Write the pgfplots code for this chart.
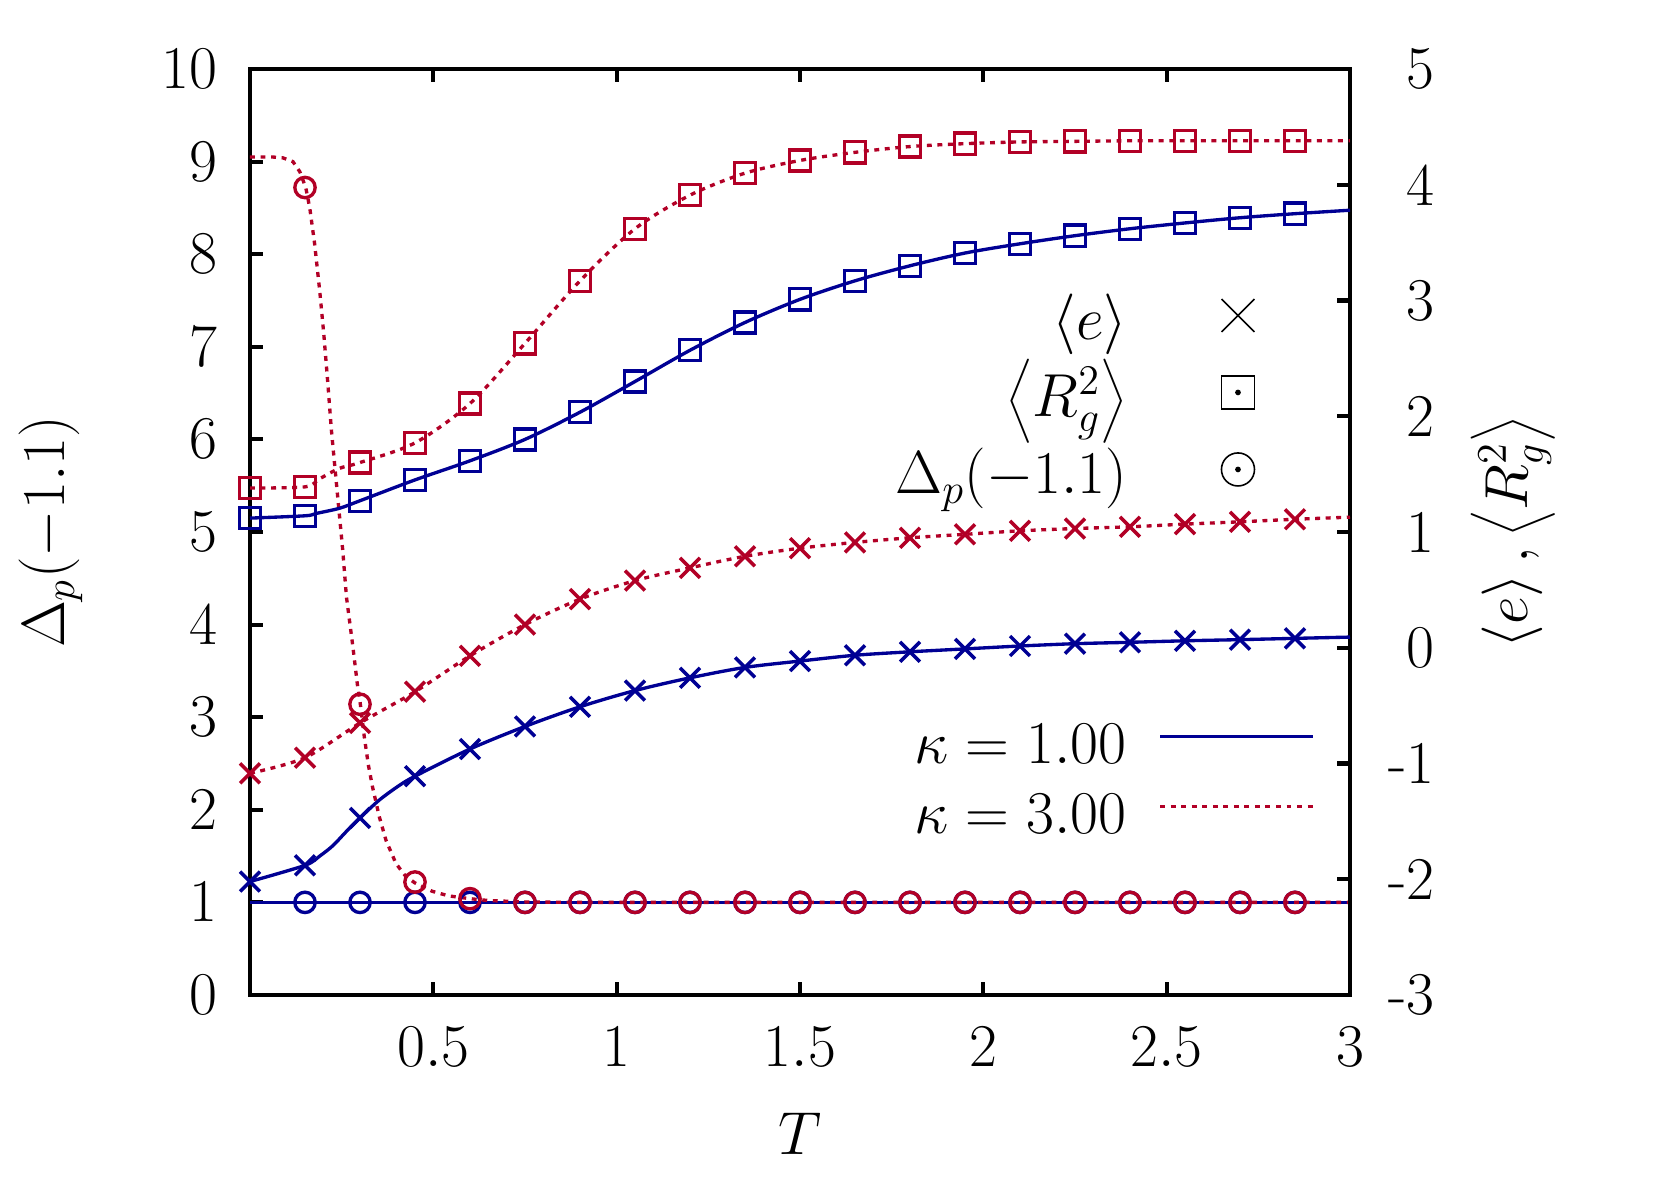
\documentclass[border=0pt]{standalone}
\usepackage{pgfplots}
\pgfplotsset{compat=1.18}
\definecolor{kblue}{RGB}{0,0,148}
\definecolor{kred}{RGB}{178,0,38}
\newcommand{\bigfont}{\fontsize{17.28}{20}\selectfont}
\tikzset{kdot/.style={dash pattern=on 1.4pt off 1.6pt}}
\pgfplotsset{
  common/.style={
    at={(2.50cm,1.86cm)}, anchor=south west, scale only axis,
    width=11.0cm, height=9.26cm, xmin=0, xmax=3, clip=false,
    tick align=inside, major tick length=0.13cm,
    axis line style={line width=1.15pt},
    every tick/.style={black, line width=1.15pt},
    tick label style={font=\bigfont},
    label style={font=\bigfont},
    legend cell align=right, legend plot pos=right,
  }
}
\begin{document}
\begin{tikzpicture}
\useasboundingbox (0,0) rectangle (16.53,11.81);
% ---------------- left axis: Delta_p(-1.1)
\begin{axis}[common,
  ymin=0, ymax=10,
  xtick={0.5,1,1.5,2,2.5,3}, ytick={0,1,...,10},
  xtick pos=both, ytick pos=left,
  xlabel={$T$}, ylabel={$\Delta_p(-1.1)$},
  xlabel style={at={(axis description cs:0.5,-0.15)}, anchor=center},
  ylabel style={at={(axis description cs:-0.181,0.5)}, anchor=center},
  x tick label style={yshift=-0.2cm},
  y tick label style={xshift=-0.2cm},
  legend image code/.code={\path (0cm,0cm); \draw[#1] (0.32cm,0.166cm) -- (1.85cm,0.166cm);},
  legend style={at={(0.968,0.299)}, anchor=north east, draw=none, fill=none,
    inner sep=0pt, outer sep=0pt, font=\bigfont, row sep=0pt,
    nodes={inner sep=0pt, text height=0.45cm, text depth=0.25cm}},
]
\addlegendimage{kblue, line width=1pt}
\addlegendentry{$\kappa = 1.00$}
\addlegendimage{kred, line width=1pt, kdot}
\addlegendentry{$\kappa = 3.00$}
% kappa = 1
\addplot[kblue, line width=0.95pt, forget plot] coordinates {(0,1) (3,1)};
\addplot[only marks, kblue, mark=o, mark size=2.9pt, line width=0.95pt, forget plot] coordinates {
(0.15,1)(0.30,1)(0.45,1)(0.60,1)(0.75,1)(0.90,1)(1.05,1)(1.20,1)(1.35,1)(1.50,1)
(1.65,1)(1.80,1)(1.95,1)(2.10,1)(2.25,1)(2.40,1)(2.55,1)(2.70,1)(2.85,1)};
% kappa = 3
\addplot[kred, line width=0.95pt, kdot, forget plot] coordinates {
(0,9.05)(0.06,9.05)(0.09,9.04)(0.117,9.00)(0.136,8.89)(0.152,8.72)(0.163,8.50)(0.176,8.12)
(0.19,7.61)(0.201,7.15)(0.212,6.62)(0.222,6.10)(0.232,5.68)(0.243,5.22)(0.253,4.80)
(0.263,4.30)(0.28,3.78)(0.293,3.35)(0.301,3.14)(0.312,2.78)(0.323,2.48)(0.334,2.25)
(0.353,1.92)(0.371,1.67)(0.398,1.42)(0.425,1.28)(0.45,1.21)(0.497,1.12)(0.542,1.07)
(0.60,1.04)(0.65,1.02)(0.75,1.005)(0.9,1.0)(3,1.0)};
\addplot[only marks, kred, mark=o, mark size=2.9pt, line width=0.95pt, forget plot] coordinates {
(0.15,8.72)(0.30,3.14)(0.45,1.22)(0.60,1.04)(0.75,1)(0.90,1)(1.05,1)(1.20,1)(1.35,1)(1.50,1)
(1.65,1)(1.80,1)(1.95,1)(2.10,1)(2.25,1)(2.40,1)(2.55,1)(2.70,1)(2.85,1)};
\end{axis}
% ---------------- right axis: <e>, <Rg^2>
\begin{axis}[common,
  ymin=-3, ymax=5,
  axis y line*=right, axis x line=none,
  ytick={-3,-2,...,5}, yticklabels={-3,-2,-1,0,1,2,3,4,5},
  y tick label style={anchor=east, xshift=0.97cm},
  ylabel={$\langle e\rangle\,,\left\langle R_g^2\right\rangle$},
  ylabel style={at={(axis description cs:1.148,0.5)}, anchor=center},
  legend style={at={(0.9132,0.756)}, anchor=north east, draw=none, fill=none,
    inner sep=0pt, outer sep=0pt, font=\bigfont, row sep=0.06cm,
    nodes={inner sep=0pt, text height=0.45cm, text depth=0.26cm}},
]
\addlegendimage{legend image code/.code={\path (0cm,0cm); \draw[black, line width=0.45pt] plot[mark=x, mark size=6.6pt] coordinates {(1.10cm,0.15cm)};}}
\addlegendentry{$\langle e\rangle$}
\addlegendimage{legend image code/.code={\path (0cm,0cm); \draw[black, line width=0.45pt] plot[mark=square, mark size=4.7pt] coordinates {(1.10cm,0.15cm)}; \fill[black] (1.10cm,0.15cm) circle (0.6pt);}}
\addlegendentry{$\left\langle R_g^2\right\rangle$}
\addlegendimage{legend image code/.code={\path (0cm,0cm); \draw[black, line width=0.45pt] plot[mark=o, mark size=4.7pt] coordinates {(1.10cm,0.15cm)}; \fill[black] (1.10cm,0.15cm) circle (0.6pt);}}
\addlegendentry{$\Delta_p(-1.1)$}
% kappa = 1 : <e>
\addplot[kblue, line width=0.95pt, smooth, forget plot] coordinates {
(0,-2.02)(0.15,-1.88)(0.19,-1.80)(0.226,-1.71)(0.262,-1.59)(0.30,-1.47)(0.353,-1.315)
(0.407,-1.19)(0.45,-1.11)(0.60,-0.875)(0.75,-0.68)(0.90,-0.51)(1.05,-0.37)(1.20,-0.26)
(1.35,-0.17)(1.50,-0.115)(1.65,-0.065)(1.80,-0.035)(1.95,-0.01)(2.10,0.015)(2.25,0.035)
(2.40,0.047)(2.55,0.06)(2.70,0.07)(2.85,0.081)(3.0,0.092)};
\addplot[only marks, kblue, mark=x, mark size=4.0pt, line width=1pt, forget plot] coordinates {
(0,-2.02)(0.15,-1.88)(0.30,-1.47)(0.45,-1.11)(0.60,-0.875)(0.75,-0.68)(0.90,-0.51)(1.05,-0.37)
(1.20,-0.26)(1.35,-0.17)(1.50,-0.115)(1.65,-0.065)(1.80,-0.035)(1.95,-0.01)(2.10,0.015)
(2.25,0.035)(2.40,0.047)(2.55,0.06)(2.70,0.07)(2.85,0.081)};
% kappa = 1 : <Rg^2>
\addplot[kblue, line width=0.95pt, smooth, forget plot] coordinates {
(0,1.12)(0.15,1.14)(0.18,1.16)(0.244,1.205)(0.30,1.27)(0.45,1.45)(0.60,1.615)(0.75,1.80)
(0.90,2.035)(1.05,2.30)(1.20,2.57)(1.35,2.81)(1.50,3.01)(1.65,3.17)(1.80,3.30)(1.95,3.41)
(2.10,3.49)(2.25,3.56)(2.40,3.62)(2.55,3.67)(2.70,3.715)(2.85,3.75)(3.0,3.78)};
\addplot[only marks, kblue, mark=square, mark size=3pt, line width=0.95pt, forget plot] coordinates {
(0,1.12)(0.15,1.14)(0.30,1.27)(0.45,1.45)(0.60,1.615)(0.75,1.80)(0.90,2.035)(1.05,2.30)
(1.20,2.57)(1.35,2.81)(1.50,3.01)(1.65,3.17)(1.80,3.30)(1.95,3.41)(2.10,3.49)(2.25,3.56)
(2.40,3.62)(2.55,3.67)(2.70,3.715)(2.85,3.75)};
% kappa = 3 : <e>
\addplot[kred, line width=0.95pt, kdot, smooth, forget plot] coordinates {
(0,-1.085)(0.15,-0.95)(0.30,-0.65)(0.45,-0.38)(0.60,-0.07)(0.75,0.20)(0.90,0.42)(1.05,0.58)
(1.20,0.69)(1.35,0.79)(1.50,0.86)(1.65,0.91)(1.80,0.95)(1.95,0.98)(2.10,1.01)(2.25,1.03)
(2.40,1.045)(2.55,1.068)(2.70,1.088)(2.85,1.11)(3.0,1.128)};
\addplot[only marks, kred, mark=x, mark size=4.0pt, line width=1pt, forget plot] coordinates {
(0,-1.085)(0.15,-0.95)(0.30,-0.65)(0.45,-0.38)(0.60,-0.07)(0.75,0.20)(0.90,0.42)(1.05,0.58)
(1.20,0.69)(1.35,0.79)(1.50,0.86)(1.65,0.91)(1.80,0.95)(1.95,0.98)(2.10,1.01)(2.25,1.03)
(2.40,1.045)(2.55,1.068)(2.70,1.088)(2.85,1.11)};
% kappa = 3 : <Rg^2>
\addplot[kred, line width=0.95pt, kdot, smooth, forget plot] coordinates {
(0,1.38)(0.15,1.39)(0.19,1.46)(0.244,1.55)(0.30,1.60)(0.45,1.77)(0.60,2.11)(0.75,2.63)
(0.90,3.17)(1.05,3.62)(1.20,3.91)(1.35,4.10)(1.50,4.21)(1.65,4.28)(1.80,4.33)(1.95,4.355)
(2.10,4.37)(2.25,4.375)(2.40,4.38)(2.55,4.38)(2.70,4.38)(2.85,4.38)(3.0,4.38)};
\addplot[only marks, kred, mark=square, mark size=3pt, line width=0.95pt, forget plot] coordinates {
(0,1.38)(0.15,1.39)(0.30,1.60)(0.45,1.77)(0.60,2.11)(0.75,2.63)(0.90,3.17)(1.05,3.62)
(1.20,3.91)(1.35,4.10)(1.50,4.21)(1.65,4.28)(1.80,4.33)(1.95,4.355)(2.10,4.37)(2.25,4.375)
(2.40,4.38)(2.55,4.38)(2.70,4.38)(2.85,4.38)};
\end{axis}
\end{tikzpicture}
\end{document}
